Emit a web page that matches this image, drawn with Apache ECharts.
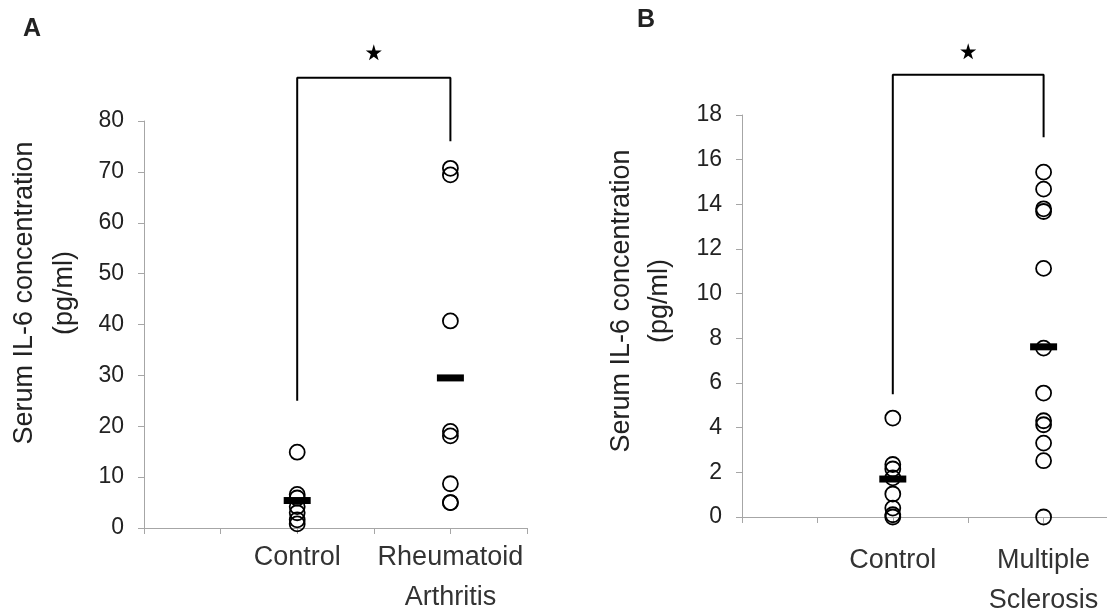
<!DOCTYPE html>
<html>
<head>
<meta charset="utf-8">
<script src="https://cdn.jsdelivr.net/npm/echarts@6/dist/echarts.min.js"></script>
<style>
  html, body { margin: 0; padding: 0; background: #fff; }
  #chart { width: 1107px; height: 612px; }
</style>
</head>
<body>
<div id="chart"></div>
<script>
// Panel A: rheumatoid arthritis
const catsA = ['Control', 'Rheumatoid\nArthritis'];
const controlA = [14.9, 6.6, 5.9, 4.2, 3.0, 1.6, 0.8];
const raA = [70.7, 69.4, 40.7, 19.0, 18.1, 8.7, 5.0, 5.0];
const meanA = [5.4, 29.5];
const bracketA = [25, 88.5, 76];   // left foot, top, right foot
const starA = 93.5;

// Panel B: multiple sclerosis
const catsB = ['Control', 'Multiple\nSclerosis'];
const controlB = [4.43, 2.35, 2.15, 1.75, 1.03, 0.4, 0.1, 0];
const msB = [15.44, 14.68, 13.8, 13.68, 11.13, 7.56, 5.55, 4.31, 4.13, 3.31, 2.52, 0];
const meanB = [1.7, 7.62];
const bracketB = [5.5, 19.8, 17];
const starB = 20.85;

const ticksA = { min: 0, max: 80, interval: 10 };
const ticksB = { min: 0, max: 18, interval: 2 };
const groupX = [2, 4];

const font = 'Liberation Sans, Arial, sans-serif';
const starPath = 'path://M50,0 L61,35 L98,35 L68,57 L79,91 L50,70 L21,91 L32,57 L2,35 L39,35 Z';

function xAxisFor(idx, cats, margin) {
    return {
        gridIndex: idx, type: 'value', min: 0, max: 5, interval: 1,
        axisLine: { show: true, lineStyle: { color: '#a6a6a6', width: 1 } },
        axisTick: { show: true, length: 6, lineStyle: { color: '#a6a6a6' } },
        splitLine: { show: false },
        axisLabel: {
            margin: margin, fontFamily: font, fontSize: 27, color: '#333', lineHeight: 40,
            formatter: v => { const i = groupX.indexOf(v); return i >= 0 ? cats[i] : ''; }
        }
    };
}
function yAxisFor(idx, t) {
    return {
        gridIndex: idx, type: 'value', min: t.min, max: t.max, interval: t.interval,
        axisLine: { show: true, lineStyle: { color: '#a6a6a6', width: 1 } },
        axisTick: { show: true, length: 6, lineStyle: { color: '#a6a6a6' } },
        splitLine: { show: false },
        axisLabel: { margin: 20, fontFamily: font, fontSize: 23, color: '#222' }
    };
}
function circles(idx, x, vals) {
    return {
        type: 'scatter', xAxisIndex: idx, yAxisIndex: idx, clip: false,
        symbol: 'circle', symbolSize: 15,
        itemStyle: { color: 'rgba(0,0,0,0)', borderColor: '#000', borderWidth: 1.8, opacity: 1 },
        data: vals.map(v => [x, v]), z: 3
    };
}
function means(idx, vals) {
    return {
        type: 'scatter', xAxisIndex: idx, yAxisIndex: idx, clip: false,
        symbol: 'rect', symbolSize: [27, 7], itemStyle: { color: '#000', opacity: 1 },
        data: vals.map((v, i) => [groupX[i], v]), z: 4
    };
}
function bracket(idx, b, s) {
    return [{
        type: 'line', xAxisIndex: idx, yAxisIndex: idx, clip: false, showSymbol: false, symbol: 'none',
        lineStyle: { color: '#000', width: 2 },
        data: [[groupX[0], b[0]], [groupX[0], b[1]], [groupX[1], b[1]], [groupX[1], b[2]]]
    }, {
        type: 'scatter', xAxisIndex: idx, yAxisIndex: idx, clip: false,
        symbol: starPath, symbolSize: 16, itemStyle: { color: '#000', opacity: 1 },
        data: [[(groupX[0] + groupX[1]) / 2, s]]
    }];
}

const chart = echarts.init(document.getElementById('chart'));
chart.setOption({
    animation: false,
    backgroundColor: '#fff',
    grid: [
        { left: 144, right: 580, top: 121, bottom: 84, containLabel: false, outerBoundsMode: 'none' },
        { left: 742, right: -12, top: 115, bottom: 95, containLabel: false, outerBoundsMode: 'none' }
    ],
    xAxis: [xAxisFor(0, catsA, 10), xAxisFor(1, catsB, 24)],
    yAxis: [yAxisFor(0, ticksA), yAxisFor(1, ticksB)],
    graphic: [
        { type: 'text', left: 23, top: 17, style: { text: 'A', fontFamily: font, fontSize: 25, fontWeight: 'bold', fill: '#222' } },
        { type: 'text', left: 637, top: 8, style: { text: 'B', fontFamily: font, fontSize: 25, fontWeight: 'bold', fill: '#222' } },
        { type: 'text', x: 45, y: 293, rotation: Math.PI / 2,
          style: { text: 'Serum IL-6 concentration\n(pg/ml)', fontFamily: font, fontSize: 27, lineHeight: 40,
                   fill: '#222', align: 'center', verticalAlign: 'middle' } },
        { type: 'text', x: 641, y: 301, rotation: Math.PI / 2,
          style: { text: 'Serum IL-6 concentration\n(pg/ml)', fontFamily: font, fontSize: 27, lineHeight: 38,
                   fill: '#222', align: 'center', verticalAlign: 'middle' } }
    ],
    series: [
        circles(0, groupX[0], controlA),
        circles(0, groupX[1], raA),
        means(0, meanA),
        ...bracket(0, bracketA, starA),
        circles(1, groupX[0], controlB),
        circles(1, groupX[1], msB),
        means(1, meanB),
        ...bracket(1, bracketB, starB)
    ]
});
</script>
</body>
</html>
